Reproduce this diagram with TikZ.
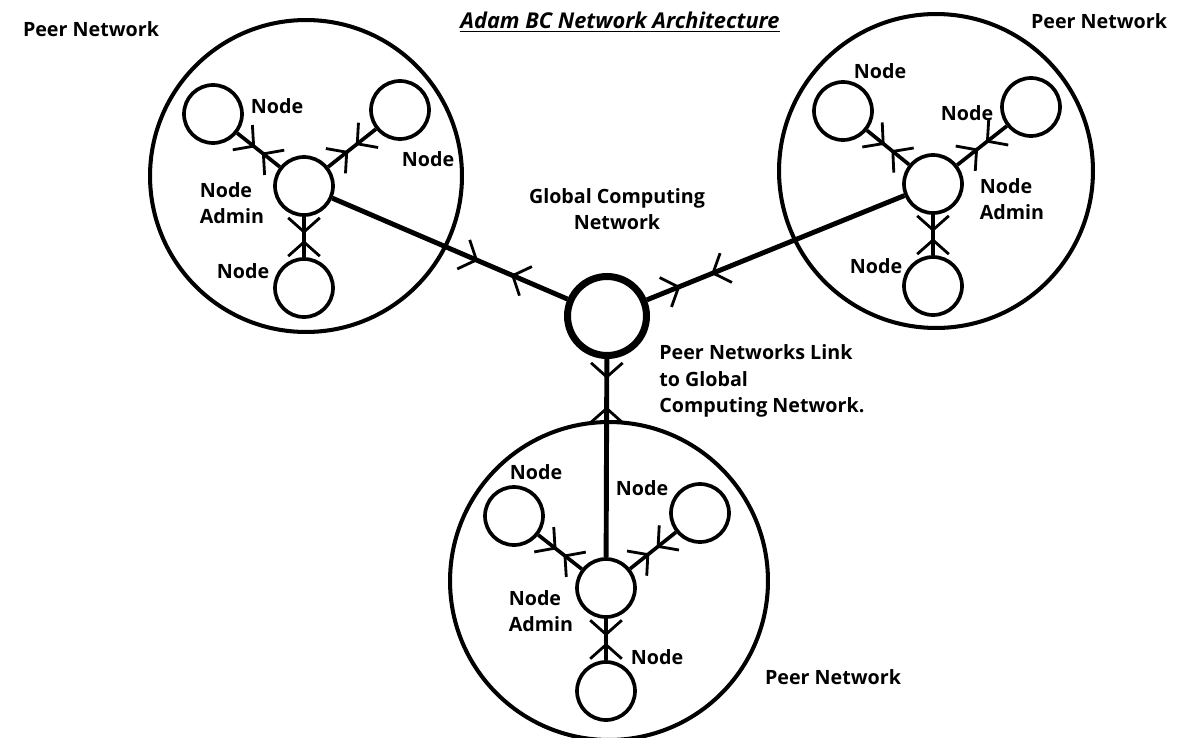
\documentclass[tikz,border=0pt]{standalone}
\usepackage{fontspec}
\setmainfont{Open Sans}
\usepackage{tikz}
\usetikzlibrary{arrows.meta}
\usetikzlibrary{positioning, calc}
\usetikzlibrary{decorations.markings}

\begin{document}
\begin{tikzpicture}[
    x=0.02cm, y=-0.02cm,
    peer/.style={draw, circle, line width=2.3pt, inner sep=0pt},
    member/.style={draw, circle, line width=2.1pt, minimum size=1.16cm, inner sep=0pt},
    hub/.style={draw, circle, line width=4pt, minimum size=1.58cm, inner sep=0pt},
    lbl/.style={font=\bfseries\fontsize{11.2pt}{15.2pt}\selectfont, align=left, inner sep=0pt},
    chev/.tip={Straight Barb[length=8pt, width=18pt, line width=1.6pt]},
    bimarks/.style 2 args={postaction={decorate, decoration={markings,
        mark=at position #1 with {\arrow{chev}},
        mark=at position #2 with {\arrowreversed{chev}}}}},
    link/.style={line width=2.1pt},
    trunk/.style={line width=2.8pt}
]
    \useasboundingbox (0,0) rectangle (1200,737);

    \draw (306,176) node[peer, minimum size=6.24cm] (peerA) {};
    \draw (936,171) node[peer, minimum size=6.28cm] (peerB) {};
    \draw (609,581) node[peer, minimum size=6.36cm] (peerC) {};
    \draw (607,316) node[hub] (gcn) {};

    % admins and their nodes
    \foreach \g/\ax/\ay in {A/304/186, B/933/184, C/606/588} {
        \draw (\ax,\ay) node[member] (admin\g) {};
    }
    \foreach \g/\i/\nx/\ny in {A/1/213/114, A/2/400/110, A/3/304/288,
                               B/1/843/111, B/2/1031/107, B/3/933/286,
                               C/1/514/516, C/2/700/513, C/3/606/691} {
        \draw (\nx,\ny) node[member] (node\g\i) {};
        \draw[link, bimarks={0.42}{0.58}] (admin\g) -- (node\g\i);
    }

    \draw[trunk, bimarks={0.62}{0.76}] (adminA) -- (gcn);
    \draw[trunk, bimarks={0.75}{0.87}] (adminB) -- (gcn);
    \draw[trunk, bimarks={0.1}{0.24}] (gcn) -- (adminC);

    \node[lbl, font=\bfseries\fontsize{12.4pt}{15pt}\selectfont] (title) at (620,22) {\itshape\underline{Adam BC Network Architecture}};
    \node[lbl] (peerAtxt) at (91,29) {Peer Network};
    \node[lbl] (peerBtxt) at (1099,21) {Peer Network};
    \node[lbl] (peerCtxt) at (833,677) {Peer Network};
    \node[lbl, align=center] (gcntxt) at (617,209) {Global Computing\\Network};
    \node[lbl, anchor=west] (linktxt) at (659,381) {Peer Networks Link\\to Global\\Computing Network.};

    \foreach \name/\lx/\ly/\t in {A1/277/106/Node, A2/428/159/Node, A0/232/203/Node\\Admin, A3/243/271/Node,
                                  B1/880/71/Node, B2/967/113/Node, B0/1012/199/Node\\Admin, B3/876/266/Node,
                                  C1/536/472/Node, C2/642/488/Node, C0/541/611/Node\\Admin, C3/657/657/Node} {
        \node[lbl] (txt\name) at (\lx,\ly) {\t};
    }
\end{tikzpicture}
\end{document}
